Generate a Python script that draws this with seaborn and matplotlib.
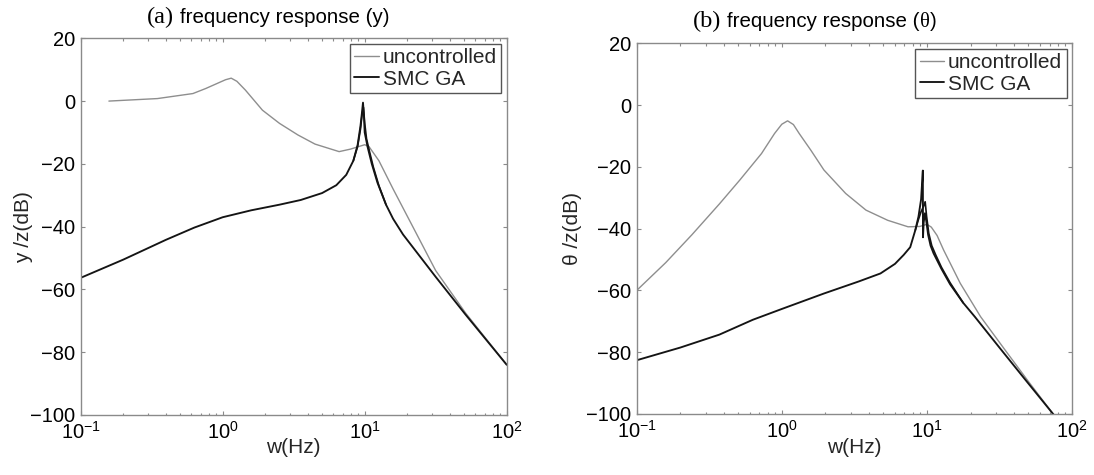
import matplotlib
matplotlib.use("Agg")
import matplotlib.pyplot as plt
import seaborn as sns
import pandas as pd
from matplotlib.ticker import LogLocator, NullFormatter

# ---------------- data ----------------
# (a) frequency response (y)
fa_unc = [0.158, 0.347, 0.617, 0.759, 0.912, 1.047, 1.148, 1.259, 1.445, 1.905, 2.512,
          3.388, 4.467, 6.607, 7.943, 8.913, 10.0, 10.72, 12.59, 15.85, 22.39, 31.62, 51.29, 100.0]
ya_unc = [0.0, 0.8, 2.4, 4.0, 5.6, 6.8, 7.3, 6.3, 3.5, -2.9, -7.1,
          -10.8, -13.7, -16.1, -15.3, -14.6, -13.9, -14.5, -19.0, -28.0, -41.0, -54.0, -67.5, -84.0]

fa_smc = [0.1, 0.1995, 0.398, 0.631, 1.0, 1.585, 2.512, 3.548, 5.012, 6.31, 7.413, 8.318,
          8.913, 9.333, 9.55, 9.727, 9.886, 10.0, 10.47, 11.22, 12.3, 14.13, 15.85, 18.62,
          31.62, 51.29, 100.0]
ya_smc = [-56.3, -50.5, -44.2, -40.3, -37.0, -34.8, -33.0, -31.5, -29.3, -26.8, -23.5, -19.0,
          -14.0, -8.0, -4.0, -0.5, -5.0, -10.0, -14.5, -20.0, -26.0, -33.0, -37.5, -42.5,
          -56.0, -68.0, -84.0]

fa_smc2 = [8.318, 8.913, 9.333, 9.6, 9.8, 10.0, 10.3, 10.8, 11.5, 12.6, 14.13]
ya_smc2 = [-19.0, -14.5, -9.0, -4.0, -2.0, -7.0, -12.0, -16.0, -21.0, -27.0, -33.0]

# (b) frequency response (theta)
fb_unc = [0.1, 0.1585, 0.2399, 0.3715, 0.5129, 0.7244, 0.8913, 1.0, 1.096, 1.202, 1.318,
          1.585, 1.95, 2.754, 3.802, 5.37, 7.413, 8.913, 10.0, 10.72, 11.75, 13.03, 16.98,
          23.44, 35.48, 50.12, 74.13, 100.0]
yb_unc = [-60.0, -51.0, -42.0, -32.0, -24.3, -15.7, -9.2, -6.2, -5.1, -6.3, -9.2,
          -14.6, -21.0, -28.6, -34.0, -37.3, -39.4, -39.3, -38.6, -39.5, -42.2, -46.9, -57.7,
          -68.5, -80.0, -89.5, -100.0, -107.5]

fb_smc = [0.1, 0.1995, 0.3715, 0.631, 1.0, 1.95, 3.388, 4.786, 6.026, 6.918, 7.674, 8.318,
          8.75, 9.12, 9.376, 9.40, 9.5, 9.7, 9.9, 10.2, 10.6, 11.12, 12.59, 14.45, 17.78,
          21.38, 31.62, 47.86, 74.13, 100.0]
yb_smc = [-82.6, -78.5, -74.3, -69.5, -66.0, -61.0, -57.1, -54.5, -51.4, -48.5, -46.0, -40.5,
          -36.1, -30.5, -21.2, -42.8, -38.0, -35.0, -37.5, -42.0, -45.5, -48.0, -53.0, -58.0, -64.0,
          -68.5, -78.5, -89.0, -100.0, -107.5]

fb_smc2 = [8.318, 8.75, 9.12, 9.44, 9.73, 9.95, 10.3, 10.8, 11.5, 12.6, 14.45, 17.78]
yb_smc2 = [-40.5, -37.0, -34.5, -33.0, -31.3, -36.0, -41.5, -45.5, -48.5, -52.5, -57.5, -64.0]

yticks = [-100, -80, -60, -40, -20, 0, 20]
labels = ["uncontrolled", "SMC GA"]

# ---------------- style ----------------
W, H = 1094, 475
sns.set_theme(style="ticks")
plt.rcParams["font.family"] = ["Liberation Sans", "DejaVu Sans"]
plt.rcParams["mathtext.fontset"] = "custom"
plt.rcParams["mathtext.rm"] = "Liberation Sans"
plt.rcParams["mathtext.it"] = "Liberation Sans:italic"
plt.rcParams["mathtext.default"] = "regular"

GRAY = "#8e8e8e"
BLACK = "#141414"
SPINE = "#8a8a8a"

fig = plt.figure(figsize=(W / 100, H / 100), dpi=100)
fig.patch.set_facecolor("white")
axA = fig.add_axes([80.7 / W, 1 - 415.0 / H, 426.0 / W, 376.7 / H])
axB = fig.add_axes([636.7 / W, 1 - 414.0 / H, 435.3 / W, 370.7 / H])


def draw(ax, f_unc, y_unc, f_smc, y_smc, f_smc2, y_smc2):
    sns.lineplot(x=f_unc, y=y_unc, ax=ax, color=GRAY, lw=1.0, sort=False,
                 estimator=None, label=labels[0])
    sns.lineplot(x=f_smc2, y=y_smc2, ax=ax, color=BLACK, lw=1.2, sort=False,
                 estimator=None, label="_nolegend_")
    sns.lineplot(x=f_smc, y=y_smc, ax=ax, color=BLACK, lw=1.35, sort=False,
                 estimator=None, label=labels[1])
    ax.set_xscale("log")
    ax.set_xlim(0.1, 100)
    ax.set_ylim(-100, 20)
    ax.set_yticks(yticks)
    ax.xaxis.set_major_locator(LogLocator(base=10, numticks=10))
    ax.xaxis.set_minor_locator(LogLocator(base=10, subs=range(2, 10), numticks=50))
    ax.xaxis.set_minor_formatter(NullFormatter())
    for s in ax.spines.values():
        s.set_visible(True)
        s.set_color(SPINE)
        s.set_linewidth(1.0)
    ax.tick_params(which="both", direction="in", top=True, right=True,
                   color=SPINE, labelcolor="black", labelsize=14.5, width=0.8)
    ax.tick_params(which="major", length=3.0, pad=4)
    ax.tick_params(which="minor", length=1.8)
    ax.grid(False)
    leg = ax.legend(loc="upper right", fontsize=15, frameon=True, fancybox=False,
                    edgecolor="#555555", framealpha=1, handlelength=1.17,
                    handletextpad=0.19, borderpad=0.22, labelspacing=0.12,
                    borderaxespad=0.25)
    leg.get_frame().set_linewidth(1.0)
    ax.set_xlabel("w(Hz)", fontsize=15)


draw(axA, fa_unc, ya_unc, fa_smc, ya_smc, fa_smc2, ya_smc2)
draw(axB, fb_unc, yb_unc, fb_smc, yb_smc, fb_smc2, yb_smc2)

axA.set_ylabel("y /z(dB)", fontsize=15)
axB.set_ylabel("θ /z(dB)", fontsize=15)
axA.yaxis.set_label_coords(-0.112, 0.5)
axB.yaxis.set_label_coords(-0.126, 0.5)
axA.xaxis.set_label_coords(0.5, -0.060)
axB.xaxis.set_label_coords(0.5, -0.064)

# titles with mixed fonts
renderer = fig.canvas.get_renderer()


def seq_text(x_px, y_px, pieces):
    x = x_px
    for s, fam, size, gap in pieces:
        x += gap
        t = fig.text(x / W, 1 - y_px / H, s, ha="left", va="baseline",
                     family=fam, size=size, color="black")
        bb = t.get_window_extent(renderer)
        x = bb.x1


seq_text(147, 23, [("(a)", "Liberation Serif", 17.5, 0),
                   ("frequency response (y)", "Liberation Sans", 14.8, 6)])
seq_text(693, 27, [("(b)", "Liberation Serif", 17.5, 0),
                   ("frequency response (", "Liberation Sans", 14.8, 6),
                   ("θ", "Liberation Serif", 14.8, 0),
                   (")", "Liberation Sans", 14.8, 0)])

fig.savefig("out.png", dpi=100, facecolor="white")
